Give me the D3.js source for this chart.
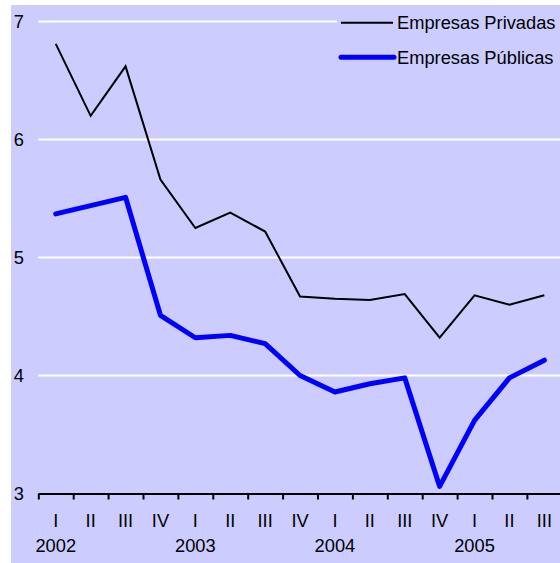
<!DOCTYPE html>
<html>
<head>
<meta charset="utf-8">
<script src="https://cdn.jsdelivr.net/npm/d3@7"></script>
<style>
  body { margin: 0; background: #fff; }
  svg text { font-family: "Liberation Sans", Arial, sans-serif; font-size: 18.3px; fill: #000; }
</style>
</head>
<body>
<div id="chart"></div>
<script>
// Quarters and years
const quarters = ["I", "II", "III", "IV", "I", "II", "III", "IV", "I", "II", "III", "IV", "I", "II", "III"];
const years = ["2002", "2003", "2004", "2005"];
const yTicks = [3, 4, 5, 6, 7];

// Series values
const privadas = [6.81, 6.20, 6.62, 5.66, 5.25, 5.38, 5.22, 4.67, 4.65, 4.64, 4.69, 4.32, 4.68, 4.60, 4.68];
const publicas = [5.37, 5.44, 5.51, 4.51, 4.32, 4.34, 4.27, 4.00, 3.86, 3.93, 3.98, 3.06, 3.62, 3.98, 4.13];

const seriesNames = ["Empresas Privadas", "Empresas Públicas"];

function drawChart() {
    const width = 560, height = 563;
    const bg = "#ccccff";

    const svg = d3.select("#chart")
        .append("svg")
        .attr("width", width)
        .attr("height", height);

    // panel background
    svg.append("rect")
        .attr("x", 11).attr("y", 5)
        .attr("width", width - 11).attr("height", height - 5)
        .attr("fill", bg);

    const ids = quarters.map((q, i) => i);
    const x = d3.scaleBand().domain(ids).range([38.3, 561.8]);
    const xb = d3.scaleLinear().domain([0, quarters.length]).range([38.3, 561.8]);
    const y = d3.scaleLinear().domain([3, 7]).range([493.5, 21.5]);

    // gridlines
    svg.selectAll(".grid")
        .data(yTicks.filter(d => d > 3))
        .enter()
        .append("line")
        .attr("class", "grid")
        .attr("x1", 38.3).attr("x2", width)
        .attr("y1", d => y(d)).attr("y2", d => y(d))
        .attr("stroke", "#fff")
        .attr("stroke-width", 2);

    // y labels
    svg.selectAll(".ylab")
        .data(yTicks)
        .enter()
        .append("text")
        .attr("class", "ylab")
        .attr("x", 24)
        .attr("y", d => y(d) + 6.5)
        .attr("text-anchor", "end")
        .text(d => d);

    // x axis with ticks between quarters
    const axis = svg.append("g")
        .attr("transform", `translate(0,${y(3)})`)
        .call(d3.axisBottom(xb)
            .tickValues(d3.range(0, quarters.length + 1))
            .tickFormat("")
            .tickSizeInner(6)
            .tickSizeOuter(0));
    axis.select(".domain").attr("stroke", "#000").attr("stroke-width", 2);
    axis.selectAll(".tick line").attr("stroke", "#000").attr("stroke-width", 2);

    // quarter labels
    svg.selectAll(".qlab")
        .data(quarters)
        .enter()
        .append("text")
        .attr("class", "qlab")
        .attr("x", (d, i) => x(i) + x.bandwidth() / 2)
        .attr("y", 526.5)
        .attr("text-anchor", "middle")
        .text(d => d);

    // year labels, centred on first quarter of each year
    svg.selectAll(".ylabel")
        .data(years)
        .enter()
        .append("text")
        .attr("class", "ylabel")
        .attr("x", (d, i) => x(i * 4) + x.bandwidth() / 2)
        .attr("y", 551.5)
        .attr("text-anchor", "middle")
        .text(d => d);

    const line = d3.line()
        .x((d, i) => x(i) + x.bandwidth() / 2)
        .y(d => y(d));

    svg.append("path")
        .datum(privadas)
        .attr("d", line)
        .attr("fill", "none")
        .attr("stroke", "#000")
        .attr("stroke-width", 2);

    svg.append("path")
        .datum(publicas)
        .attr("d", line)
        .attr("fill", "none")
        .attr("stroke", "#0000ff")
        .attr("stroke-width", 5)
        .attr("stroke-linejoin", "round")
        .attr("stroke-linecap", "round");

    // legend
    const legend = svg.append("g");
    legend.append("rect")
        .attr("x", 337).attr("y", 5)
        .attr("width", width - 337).attr("height", 72)
        .attr("fill", bg);

    const legendItems = [
        { name: seriesNames[0], color: "#000", w: 2, y: 22.7, x1: 341, x2: 393 },
        { name: seriesNames[1], color: "#0000ff", w: 5, y: 57.3, x1: 341, x2: 394 }
    ];
    const item = legend.selectAll(".item")
        .data(legendItems)
        .enter()
        .append("g");
    item.append("line")
        .attr("x1", d => d.x1).attr("x2", d => d.x2)
        .attr("y1", d => d.y).attr("y2", d => d.y)
        .attr("stroke", d => d.color)
        .attr("stroke-width", d => d.w)
        .attr("stroke-linecap", d => d.w > 2 ? "round" : "butt");
    item.append("text")
        .attr("x", 397)
        .attr("y", d => d.y + 6.5)
        .text(d => d.name);
}

drawChart();
</script>
</body>
</html>
